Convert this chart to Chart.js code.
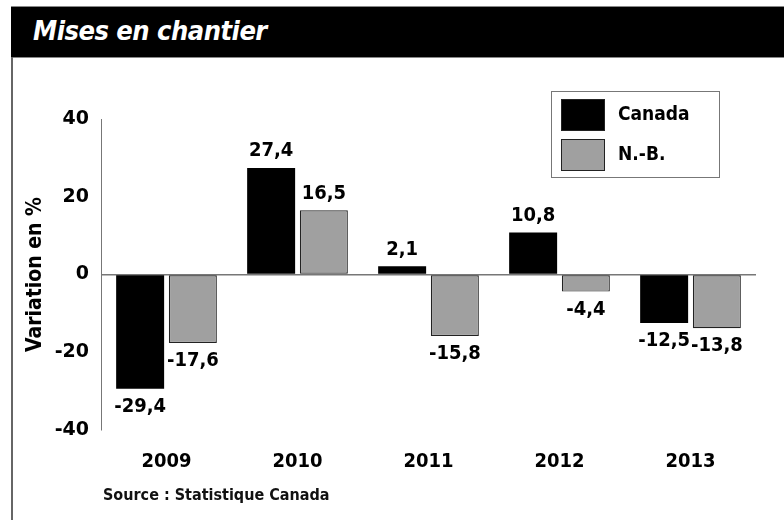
<!DOCTYPE html>
<html><head><meta charset="utf-8">
<script src="https://cdn.jsdelivr.net/npm/chart.js@4.4.1/dist/chart.umd.min.js"></script>
<style>
html,body{margin:0;padding:0;background:#fff;}
#wrap{position:relative;width:784px;height:520px;overflow:hidden;}
#hdr{position:absolute;left:11px;top:6px;width:773px;height:50px;background:#000;border-top:1px solid #888;border-bottom:1px solid #888;}
#ttl{position:absolute;left:22px;top:8px;color:#fff;font:italic bold 27px 'Liberation Sans Narrow','DejaVu Sans Condensed',sans-serif;letter-spacing:-0.5px;}
#lb{position:absolute;left:11px;top:57px;width:2px;height:463px;background:#666;}
#src{position:absolute;left:103px;top:485px;font:bold 16px 'Liberation Sans Narrow','DejaVu Sans Condensed',sans-serif;color:#111;}
canvas{position:absolute;left:0;top:0;}
</style></head>
<body><div id="wrap">
<div id="hdr"><div id="ttl">Mises en chantier</div></div>
<div id="lb"></div>
<canvas id="c" width="784" height="520"></canvas>
<div id="src">Source : Statistique Canada</div>
</div>
<script>
const categories = ['2009','2010','2011','2012','2013'];
const canada = [-29.4, 27.4, 2.1, 10.8, -12.5];
const nb = [-17.6, 16.5, -15.8, -4.4, -13.8];
const seriesNames = ['Canada','N.-B.'];
const yTicks = [-40,-20,0,20,40];

const NARROW = "'Liberation Sans Narrow','DejaVu Sans Condensed',sans-serif";

const labelPlugin = {
  id:'vlabels',
  afterDatasetsDraw(chart){
    const ctx = chart.ctx;
    ctx.save();
    ctx.font = 'bold 20px ' + NARROW;
    ctx.fillStyle = '#000';
    ctx.textAlign = 'center';
    ctx.textBaseline = 'middle';
    chart.data.datasets.forEach((ds,i)=>{
      const meta = chart.getDatasetMeta(i);
      meta.data.forEach((bar,j)=>{
        const v = ds.data[j];
        const txt = v.toFixed(1).replace('.',',');
        const y = v >= 0 ? bar.y - 17 : bar.y + 18;
        ctx.fillText(txt, bar.x, y);
      });
    });
    ctx.restore();
  }
};

const legendPlugin = {
  id:'boxlegend',
  afterDraw(chart){
    const ctx = chart.ctx;
    ctx.save();
    ctx.strokeStyle = '#777';
    ctx.lineWidth = 1;
    ctx.strokeRect(551.5, 91.5, 168, 86);
    const ds = chart.data.datasets;
    const ys = [99, 139];
    ds.forEach((d,i)=>{
      ctx.fillStyle = d.backgroundColor;
      ctx.fillRect(561, ys[i], 44, 32);
      ctx.strokeStyle = '#222';
      ctx.strokeRect(561.5, ys[i]+0.5, 43, 31);
      ctx.fillStyle = '#000';
      ctx.font = 'bold 19px ' + NARROW;
      ctx.textBaseline = 'middle';
      ctx.textAlign = 'left';
      ctx.fillText(d.label, 618, ys[i]+16);
    });
    ctx.restore();
  }
};

new Chart(document.getElementById('c'), {
  type:'bar',
  data:{
    labels: categories,
    datasets:[
      {label: seriesNames[0], data: canada, backgroundColor:'#000000', borderColor:'#000000', borderWidth:0},
      {label: seriesNames[1], data: nb, backgroundColor:'#a0a0a0', borderColor:'#222222', borderWidth:1.2, borderSkipped:false}
    ]
  },
  options:{
    responsive:false,
    animation:false,
    devicePixelRatio:1,
    layout:{padding:{top:119, right:28, left:0, bottom:0}},
    categoryPercentage:0.805,
    barPercentage:0.91,
    plugins:{legend:{display:false}, tooltip:{enabled:false}},
    scales:{
      x:{
        grid:{display:false, drawTicks:false},
        border:{display:false},
        ticks:{color:'#000', font:{family:NARROW, size:20, weight:'bold'}, padding:20},
        afterFit(s){ s.height = 90; }
      },
      y:{
        min:-40, max:40,
        afterBuildTicks(s){ s.ticks = yTicks.map(v=>({value:v})); },
        grid:{drawTicks:false, color:(c)=> c.tick && c.tick.value===0 ? '#777' : 'rgba(0,0,0,0)', lineWidth:1.5},
        border:{display:true, color:'#777', width:1},
        ticks:{color:'#000', font:{family:"'DejaVu Sans',sans-serif", size:19, weight:'bold'}, padding:12},
        title:{display:true, text:'Variation en %', color:'#000', font:{family:NARROW, size:21, weight:'bold'}, padding:{top:23,bottom:0}},
        afterFit(s){ s.width = 101; }
      }
    }
  },
  plugins:[labelPlugin, legendPlugin]
});
</script>
</body></html>
